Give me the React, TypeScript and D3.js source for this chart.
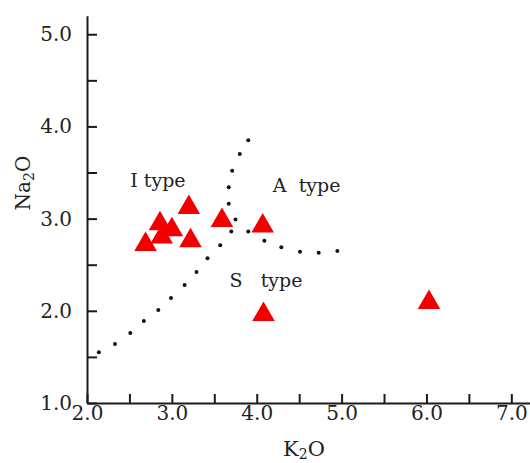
import React, { useEffect, useRef } from 'react';
import * as d3 from 'd3';

// sample points (K2O, Na2O)
const sampleK2O = [3.2, 2.86, 3.0, 2.88, 2.69, 3.22, 3.59, 4.07, 4.08, 6.03];
const sampleNa2O = [3.12, 2.945, 2.88, 2.8, 2.72, 2.76, 2.98, 2.92, 1.96, 2.09];

// dotted boundary between I type and S type
const isLineK2O = [2.14, 2.33, 2.51, 2.67, 2.84, 2.99, 3.15, 3.29, 3.42, 3.57, 3.7, 3.75, 3.67, 3.67, 3.71, 3.8, 3.9];
const isLineNa2O = [1.55, 1.64, 1.76, 1.89, 2.01, 2.14, 2.28, 2.42, 2.57, 2.71, 2.86, 2.99, 3.16, 3.34, 3.52, 3.7, 3.85];

// dotted boundary between A type and S type
const asLineK2O = [3.9, 4.09, 4.29, 4.51, 4.73, 4.95];
const asLineNa2O = [2.86, 2.76, 2.69, 2.64, 2.63, 2.65];

// axis ticks
const xTicks = [2.0, 2.5, 3.0, 3.5, 4.0, 4.5, 5.0, 5.5, 6.0, 6.5, 7.0];
const yTicks = [1.0, 1.5, 2.0, 2.5, 3.0, 3.5, 4.0, 4.5, 5.0];

// field names
const fieldNames = ['I type', 'A  type', 'S   type'];
const fieldK2O = [2.51, 4.19, 3.68];
const fieldNa2O = [3.34, 3.29, 2.26];

const WIDTH = 530;
const HEIGHT = 463;
const FONT = '"DejaVu Serif", serif';

export default function App() {
  const ref = useRef<SVGSVGElement | null>(null);

  useEffect(() => {
    const svg = d3.select(ref.current);
    svg.selectAll('*').remove();

    const x = d3.scaleLinear().domain([2, 7.22]).range([87, 530]);
    const y = d3.scaleLinear().domain([1, 5.2]).range([403, 15.8]);
    const fmt = (d: any) => (Number.isInteger(d) ? d3.format('.1f')(d) : '');

    // x axis
    const axisX = d3
      .axisBottom(x)
      .tickValues(xTicks)
      .tickSizeInner(-9)
      .tickSizeOuter(0)
      .tickPadding(3)
      .tickFormat(fmt);
    const gx = svg.append('g').attr('transform', `translate(0,${y(1)})`).call(axisX);
    gx.selectAll('path, line').attr('stroke', '#1a1a1a').attr('stroke-width', 2);
    gx.selectAll('text')
      .attr('fill', '#222')
      .style('font-family', FONT)
      .style('font-size', '20px');

    // y axis
    const axisY = d3
      .axisLeft(y)
      .tickValues(yTicks)
      .tickSizeInner(-10)
      .tickSizeOuter(0)
      .tickPadding(15)
      .tickFormat(fmt);
    const gy = svg.append('g').attr('transform', `translate(${x(2)},0)`).call(axisY);
    gy.selectAll('path, line').attr('stroke', '#1a1a1a').attr('stroke-width', 2);
    gy.selectAll('text')
      .attr('fill', '#222')
      .style('font-family', FONT)
      .style('font-size', '20px');

    // axis titles
    const xTitle = svg
      .append('text')
      .attr('x', 304)
      .attr('y', 456)
      .attr('text-anchor', 'middle')
      .attr('fill', '#222')
      .style('font-family', FONT)
      .style('font-size', '21px');
    xTitle.append('tspan').text('K');
    xTitle.append('tspan').attr('dy', 3).style('font-size', '14px').text('2');
    xTitle.append('tspan').attr('dy', -3).text('O');

    const yTitle = svg
      .append('text')
      .attr('transform', 'translate(30,183) rotate(-90)')
      .attr('text-anchor', 'middle')
      .attr('fill', '#222')
      .style('font-family', FONT)
      .style('font-size', '20px');
    yTitle.append('tspan').text('Na');
    yTitle.append('tspan').attr('dy', 4).style('font-size', '14px').text('2');
    yTitle.append('tspan').attr('dy', -4).text('O');

    // dotted boundaries
    const dots = [
      ...isLineK2O.map((k, i) => [k, isLineNa2O[i]]),
      ...asLineK2O.map((k, i) => [k, asLineNa2O[i]]),
    ];
    svg
      .append('g')
      .selectAll('circle')
      .data(dots)
      .enter()
      .append('circle')
      .attr('cx', (d) => x(d[0]))
      .attr('cy', (d) => y(d[1]))
      .attr('r', 2)
      .attr('fill', '#111');

    // field labels
    svg
      .append('g')
      .selectAll('text')
      .data(fieldNames)
      .enter()
      .append('text')
      .attr('x', (d, i) => x(fieldK2O[i]))
      .attr('y', (d, i) => y(fieldNa2O[i]))
      .attr('fill', '#222')
      .style('white-space', 'pre')
      .style('font-family', FONT)
      .style('font-size', '19px')
      .text((d) => d);

    // samples
    const triangle = d3.symbol().type(d3.symbolTriangle).size(220);
    svg
      .append('g')
      .selectAll('path')
      .data(sampleK2O)
      .enter()
      .append('path')
      .attr('d', triangle)
      .attr('transform', (d, i) => `translate(${x(d)},${y(sampleNa2O[i])})`)
      .attr('fill', '#f20000');
  }, []);

  return (
    <svg
      ref={ref}
      width={WIDTH}
      height={HEIGHT}
      style={{ position: 'absolute', left: 0, top: 0, background: '#fff' }}
    />
  );
}
